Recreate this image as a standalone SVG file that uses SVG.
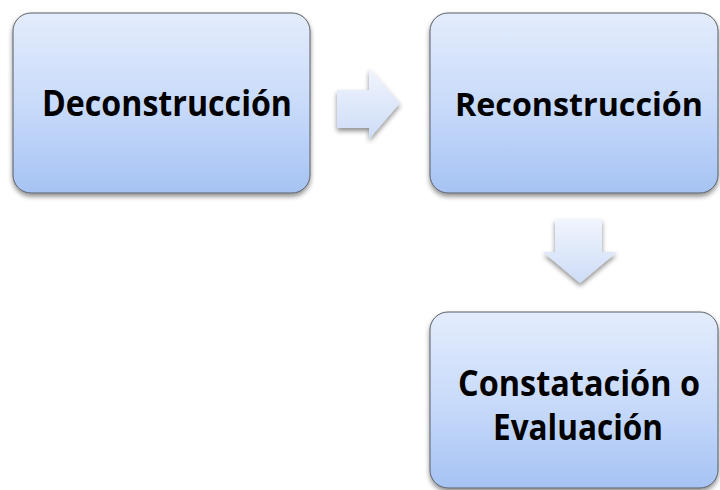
<svg xmlns="http://www.w3.org/2000/svg" width="720" height="490" viewBox="0 0 720 490">
<defs>
<linearGradient id="boxg" x1="0" y1="0" x2="0" y2="1">
<stop offset="0" stop-color="#e3ecfc"/>
<stop offset="0.5" stop-color="#c9dbfa"/>
<stop offset="1" stop-color="#a6c3f3"/>
</linearGradient>
<linearGradient id="arrg" x1="0" y1="0" x2="0" y2="1">
<stop offset="0" stop-color="#f1f5fd"/>
<stop offset="1" stop-color="#cddcf7"/>
</linearGradient>
<filter id="sh" x="-10%" y="-10%" width="120%" height="125%">
<feGaussianBlur in="SourceAlpha" stdDeviation="2.5"/>
<feOffset dx="0" dy="3" result="b"/>
<feComponentTransfer><feFuncA type="linear" slope="0.45"/></feComponentTransfer>
<feMerge><feMergeNode/><feMergeNode in="SourceGraphic"/></feMerge>
</filter>
</defs>
<style>
.box{fill:url(#boxg);stroke:#5a5f66;stroke-width:1;filter:url(#sh)}
.arr{fill:url(#arrg);filter:url(#sh)}
.lbl{font-family:"Open Sans","Liberation Sans",sans-serif;font-weight:bold;font-size:35px;fill:#000;text-anchor:middle}
</style>
<g id="connectors">
<polygon class="arr" points="337,90 369,90 369,68 400,103 369,139 369,128 337,128"/>
<polygon class="arr" points="555,219 602,219 602,252 617,252 580,283 543,252 555,252"/>
</g>
<g id="node1">
<rect class="box" x="13" y="13" width="297" height="180" rx="18"/>
<text class="lbl" x="167" y="116" textLength="250" lengthAdjust="spacingAndGlyphs">Deconstrucción</text>
</g>
<g id="node2">
<rect class="box" x="430" y="13" width="288" height="180" rx="18"/>
<text class="lbl" x="579" y="116" style="font-size:32px" textLength="248" lengthAdjust="spacingAndGlyphs">Reconstrucción</text>
</g>
<g id="node3">
<rect class="box" x="430" y="312" width="288" height="176" rx="18"/>
<text class="lbl" x="579" y="396" textLength="242" lengthAdjust="spacingAndGlyphs">Constatación o</text>
<text class="lbl" x="578" y="440" textLength="170" lengthAdjust="spacingAndGlyphs">Evaluación</text>
</g>
</svg>
